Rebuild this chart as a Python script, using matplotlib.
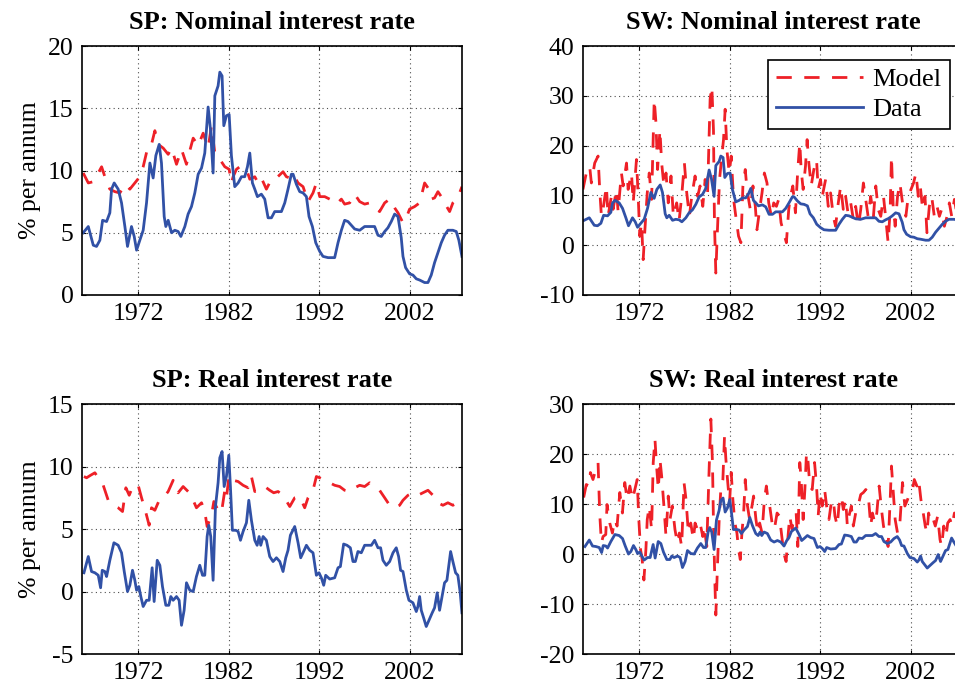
import numpy as np
import matplotlib
matplotlib.use("Agg")
import matplotlib.pyplot as plt

# ---- data (year / % per annum) ----
nom_data_t = [1965.93, 1966.49, 1967.04, 1967.40, 1967.77, 1968.07, 1968.51, 1968.87, 1969.06, 1969.35,
              1969.79, 1970.16, 1970.53, 1970.82, 1971.26, 1971.56, 1971.82, 1972.18, 1972.55, 1972.92,
              1973.29, 1973.65, 1973.95, 1974.32, 1974.57, 1974.87, 1975.05, 1975.31, 1975.68, 1976.04,
              1976.41, 1976.71, 1977.15, 1977.51, 1977.88, 1978.25, 1978.62, 1978.99, 1979.35, 1979.54,
              1979.72, 1979.98, 1980.27, 1980.46, 1980.82, 1981.01, 1981.26, 1981.45, 1981.74, 1982.04,
              1982.29, 1982.66, 1983.03, 1983.40, 1983.76, 1984.06, 1984.32, 1984.61, 1984.87, 1985.16,
              1985.60, 1985.97, 1986.34, 1986.71, 1987.07, 1987.44, 1987.81, 1988.18, 1988.54, 1988.91,
              1989.10, 1989.46, 1989.83, 1990.20, 1990.57, 1990.86, 1991.23, 1991.60, 1992.04, 1992.40,
              1992.96, 1993.69, 1994.06, 1994.43, 1994.79, 1995.16, 1995.53, 1995.90, 1996.45, 1997.00,
              1997.55, 1998.10, 1998.47, 1998.84, 1999.21, 1999.57, 1999.94, 2000.31, 2000.68, 2001.04,
              2001.23, 2001.52, 2001.96, 2002.33, 2002.70, 2003.07, 2003.62, 2003.99, 2004.35, 2004.72,
              2005.09, 2005.46, 2005.82, 2006.19, 2006.74, 2007.11, 2007.40, 2007.74]
nom_data = [5.0, 5.5, 4.0, 3.9, 4.4, 6.0, 5.9, 6.6, 8.5, 9.0,
            8.5, 7.4, 5.5, 3.9, 5.5, 4.7, 3.6, 4.4, 5.2, 7.4,
            10.6, 9.4, 11.2, 12.1, 10.6, 6.3, 5.5, 6.0, 5.0, 5.2,
            5.1, 4.7, 5.5, 6.5, 7.1, 8.2, 9.7, 10.2, 11.4, 13.3,
            15.1, 13.3, 9.8, 16.0, 16.8, 17.9, 17.6, 13.6, 14.4, 14.5,
            11.2, 8.7, 9.0, 9.5, 9.5, 10.3, 11.4, 9.0, 8.5, 7.9,
            8.1, 7.7, 6.2, 6.2, 6.7, 6.7, 6.7, 7.4, 8.5, 9.7,
            9.7, 8.9, 8.3, 8.2, 7.9, 6.3, 5.5, 4.2, 3.5, 3.1,
            3.0, 3.0, 4.2, 5.2, 6.0, 5.9, 5.6, 5.3, 5.2, 5.5,
            5.5, 5.5, 4.8, 4.7, 5.1, 5.4, 5.9, 6.5, 6.3, 4.6,
            3.1, 2.2, 1.7, 1.6, 1.3, 1.2, 1.0, 1.0, 1.6, 2.6,
            3.4, 4.2, 4.8, 5.2, 5.2, 5.1, 4.4, 3.1]

sp_nom_t = [1965.93, 1966.49, 1967.04, 1967.59, 1967.96, 1968.32, 1968.87, 1969.43, 1969.98, 1970.53,
            1971.08, 1971.63, 1972.18, 1972.55, 1973.10, 1973.47, 1973.84, 1974.21, 1974.76, 1975.31,
            1975.68, 1976.23, 1976.78, 1977.33, 1977.70, 1978.07, 1978.62, 1979.17, 1979.72, 1980.09,
            1980.46, 1981.01, 1981.56, 1982.04, 1982.29, 1982.48, 1982.85, 1983.21, 1983.58, 1983.95,
            1984.32, 1984.87, 1985.24, 1985.60, 1986.15, 1986.71, 1987.26, 1987.99, 1988.36, 1988.73,
            1989.10, 1989.65, 1990.20, 1990.75, 1991.30, 1991.67, 1992.04, 1992.59, 1993.14, 1993.88,
            1994.43, 1994.79, 1995.35, 1995.90, 1996.45, 1997.00, 1997.55, 1998.10, 1998.65, 1999.21,
            1999.76, 2000.31, 2000.68, 2001.23, 2001.60, 2001.96, 2002.51, 2003.07, 2003.62, 2003.99,
            2004.35, 2004.72, 2005.09, 2005.46, 2005.82, 2006.38, 2006.74, 2007.11, 2007.48, 2007.74]
sp_nom = [9.8, 9.0, 9.1, 9.8, 10.3, 9.5, 8.5, 8.3, 8.2, 8.9,
          8.5, 9.0, 9.5, 10.3, 12.0, 12.1, 13.2, 12.1, 11.8, 11.3,
          11.8, 10.5, 11.7, 10.5, 11.6, 12.6, 12.0, 13.0, 11.8, 13.6,
          11.4, 10.9, 10.3, 10.1, 9.0, 9.5, 10.1, 10.3, 10.3, 10.1,
          9.3, 9.5, 9.0, 9.4, 8.5, 9.3, 9.4, 9.9, 9.5, 9.4,
          9.7, 9.0, 8.7, 7.5, 8.2, 9.0, 7.9, 7.9, 7.7, 7.3,
          7.7, 7.3, 7.4, 8.1, 7.5, 7.3, 7.4, 7.0, 6.7, 7.4,
          7.7, 7.0, 6.6, 5.8, 6.2, 6.9, 7.1, 7.4, 9.0, 8.6,
          7.7, 7.8, 8.3, 7.9, 7.4, 6.7, 7.4, 7.7, 8.2, 8.7]

real_data_t = [1966.01, 1966.49, 1966.85, 1967.22, 1967.59, 1967.85, 1968.03, 1968.32, 1968.51, 1968.87,
               1969.32, 1969.79, 1970.16, 1970.46, 1970.82, 1971.08, 1971.37, 1971.63, 1971.82, 1972.07,
               1972.29, 1972.55, 1972.92, 1973.21, 1973.54, 1973.76, 1974.10, 1974.39, 1974.68, 1975.05,
               1975.38, 1975.60, 1975.86, 1976.23, 1976.52, 1976.78, 1977.07, 1977.33, 1977.70, 1978.07,
               1978.43, 1978.80, 1979.10, 1979.35, 1979.61, 1979.79, 1980.01, 1980.27, 1980.53, 1980.82,
               1981.01, 1981.26, 1981.49, 1981.74, 1982.00, 1982.18, 1982.40, 1982.77, 1983.03, 1983.29,
               1983.58, 1983.95, 1984.21, 1984.50, 1984.87, 1985.13, 1985.35, 1985.53, 1985.79, 1986.15,
               1986.52, 1986.89, 1987.26, 1987.63, 1987.99, 1988.29, 1988.54, 1988.80, 1989.28, 1989.65,
               1989.94, 1990.20, 1990.57, 1990.93, 1991.30, 1991.67, 1991.96, 1992.22, 1992.48, 1992.70,
               1993.14, 1993.69, 1994.06, 1994.32, 1994.68, 1995.05, 1995.42, 1995.71, 1995.97, 1996.26,
               1996.63, 1997.00, 1997.37, 1997.74, 1998.10, 1998.47, 1998.76, 1999.02, 1999.39, 1999.76,
               2000.13, 2000.49, 2000.75, 2000.97, 2001.23, 2001.60, 2001.89, 2002.33, 2002.70, 2002.88,
               2003.07, 2003.25, 2003.51, 2003.80, 2004.10, 2004.46, 2004.72, 2005.01, 2005.27, 2005.57,
               2005.82, 2006.08, 2006.49, 2006.74, 2007.04, 2007.29, 2007.55, 2007.74]
real_data = [1.5, 2.8, 1.6, 1.5, 1.3, 0.3, 1.7, 1.6, 1.2, 2.5,
             3.9, 3.7, 3.1, 1.6, 0.0, 0.5, 1.7, 0.9, 0.1, 0.4,
             -0.4, -1.2, -0.7, -0.7, 1.9, -0.8, 2.5, 2.1, 0.4, -1.1,
             -1.1, -0.4, -0.7, -0.4, -0.7, -2.7, -1.5, 0.7, 0.1, 0.0,
             1.2, 2.1, 1.3, 1.3, 4.4, 5.3, 4.4, 0.9, 6.8, 8.7,
             10.7, 11.2, 8.4, 9.2, 10.9, 8.4, 4.9, 4.9, 4.8, 4.1,
             4.8, 5.5, 7.3, 5.7, 4.1, 3.7, 4.4, 3.7, 4.4, 4.1,
             2.8, 2.4, 2.7, 2.4, 1.6, 2.7, 3.3, 4.5, 5.2, 3.9,
             2.7, 3.1, 3.7, 3.3, 3.1, 1.3, 1.5, 1.1, 0.5, 1.3,
             1.0, 1.1, 1.9, 2.0, 3.8, 3.7, 3.5, 2.4, 2.4, 3.2,
             3.1, 3.7, 3.7, 3.7, 4.1, 3.5, 3.5, 2.5, 2.1, 2.4,
             3.1, 3.5, 2.8, 1.7, 1.6, 0.1, -0.7, -0.9, -1.6, -1.2,
             -0.4, -1.5, -2.1, -2.8, -2.3, -1.7, -1.3, -0.1, -1.5, -0.3,
             0.7, 0.9, 3.2, 2.4, 1.5, 1.3, -0.1, -1.7]

sp_real_t = [1966.01, 1966.30, 1966.74, 1967.22, 1968.14, 1968.69, 1969.24, 1969.79, 1970.27, 1970.64,
             1971.01, 1971.45, 1972.00, 1972.37, 1972.85, 1973.21, 1973.47, 1973.84, 1974.32, 1974.76,
             1975.31, 1975.86, 1976.41, 1976.96, 1977.51, 1978.07, 1978.43, 1978.99, 1979.35, 1979.61,
             1980.09, 1980.35, 1980.82, 1981.19, 1981.56, 1981.74, 1982.04, 1982.48, 1983.03, 1983.58,
             1984.13, 1984.50, 1984.87, 1985.42, 1985.97, 1986.52, 1986.96, 1987.44, 1987.99, 1988.73,
             1989.28, 1989.83, 1990.38, 1990.75, 1991.30, 1991.67, 1992.04, 1992.59, 1993.14, 1993.69,
             1994.24, 1994.79, 1995.35, 1995.90, 1996.45, 1997.00, 1997.55, 1998.10, 1998.65, 1999.21,
             1999.76, 2000.31, 2000.86, 2001.23, 2001.78, 2002.33, 2002.88, 2003.43, 2003.99, 2004.54,
             2005.09, 2005.64, 2006.19, 2006.74, 2007.29, 2007.74]
sp_real = [9.2, 9.1, 9.3, 9.5, 8.5, 7.3, 6.9, 6.7, 6.4, 8.3,
           7.7, 8.5, 8.5, 7.5, 6.3, 5.3, 6.7, 6.5, 7.3, 7.5,
           8.0, 8.9, 7.9, 8.4, 8.0, 7.3, 6.7, 7.1, 6.4, 5.2,
           6.1, 7.2, 6.5, 6.3, 8.1, 7.5, 9.3, 8.9, 8.8, 8.5,
           8.3, 9.2, 8.0, 8.1, 8.4, 8.1, 7.9, 8.0, 7.7, 6.8,
           7.5, 7.6, 6.7, 7.5, 8.1, 9.2, 9.1, 8.9, 8.7, 8.5,
           8.4, 8.1, 8.0, 8.3, 8.5, 8.4, 8.7, 8.4, 8.1, 7.5,
           6.9, 6.7, 6.9, 7.3, 7.7, 7.9, 7.7, 7.9, 8.1, 7.7,
           7.1, 6.9, 7.1, 6.9, 7.1, 7.7]

sw_nom_t = [1965.79, 1966.16, 1966.53, 1966.72, 1967.09, 1967.46, 1967.64, 1967.83, 1968.01, 1968.38,
            1968.56, 1968.93, 1969.12, 1969.49, 1969.67, 1970.04, 1970.23, 1970.60, 1970.78, 1971.15,
            1971.34, 1971.70, 1971.89, 1972.07, 1972.26, 1972.44, 1972.63, 1972.89, 1973.11, 1973.37,
            1973.66, 1973.85, 1974.03, 1974.29, 1974.48, 1974.73, 1974.96, 1975.21, 1975.51, 1975.77,
            1976.14, 1976.40, 1976.69, 1976.99, 1977.25, 1977.54, 1977.80, 1978.17, 1978.46, 1978.72,
            1979.02, 1979.28, 1979.54, 1979.83, 1980.02, 1980.20, 1980.31, 1980.46, 1980.64, 1980.87,
            1981.12, 1981.31, 1981.49, 1981.68, 1981.94, 1982.16, 1982.42, 1982.71, 1982.97, 1983.23,
            1983.45, 1983.71, 1983.90, 1984.26, 1984.56, 1984.82, 1985.00, 1985.30, 1985.56, 1985.82,
            1986.11, 1986.30, 1986.59, 1986.85, 1987.15, 1987.40, 1987.66, 1987.96, 1988.25, 1988.51,
            1988.70, 1988.96, 1989.25, 1989.51, 1989.73, 1989.88, 1990.10, 1990.36, 1990.54, 1990.73,
            1990.99, 1991.28, 1991.58, 1991.76, 1992.02, 1992.21, 1992.58, 1992.87, 1993.13, 1993.43,
            1993.68, 1993.98, 1994.24, 1994.53, 1994.79, 1995.05, 1995.35, 1995.64, 1995.90, 1996.20,
            1996.46, 1996.75, 1997.01, 1997.27, 1997.56, 1997.86, 1998.12, 1998.38, 1998.67, 1998.97,
            1999.23, 1999.48, 1999.71, 1999.85, 2000.04, 2000.26, 2000.52, 2000.78, 2001.07, 2001.44,
            2001.70, 2002.00, 2002.29, 2002.55, 2002.81, 2003.03, 2003.29, 2003.55, 2003.77, 2004.03,
            2004.29, 2004.58, 2004.88, 2005.14, 2005.39, 2005.69, 2005.99, 2006.24, 2006.50, 2006.80,
            2006.98]
sw_nom = [11.2, 14.5, 15.9, 12.5, 16.5, 17.9, 11.2, 5.8, 7.2, 11.9,
          5.8, 9.8, 7.2, 11.2, 6.8, 14.5, 11.9, 16.5, 11.2, 14.5,
          8.5, 17.2, 9.8, 1.8, 4.5, -2.9, 3.1, 10.5, 14.5, 9.2,
          29.3, 24.6, 15.2, 23.2, 16.5, 11.9, 14.5, 8.5, 13.9, 5.8,
          8.5, 4.8, 9.8, 16.5, 10.5, 5.8, 9.8, 13.9, 9.8, 11.9,
          7.8, 13.2, 9.8, 29.3, 31.9, 23.2, 4.5, -5.6, 3.1, 13.2,
          17.9, 21.2, 27.3, 19.2, 14.5, 17.9, 9.2, 5.2, 1.8, 0.5,
          11.9, 15.2, 11.2, 7.2, 11.9, 7.8, 3.1, 7.2, 10.5, 14.5,
          12.5, 8.5, 5.8, 8.5, 7.8, 9.2, 4.5, 2.5, 0.5, 7.2,
          9.8, 11.9, 6.5, 15.2, 20.6, 15.2, 11.2, 15.9, 21.2, 16.5,
          11.9, 15.2, 17.2, 11.2, 13.2, 9.8, 13.2, 7.8, 10.5, 5.8,
          3.8, 8.5, 11.9, 7.2, 9.8, 6.5, 8.5, 5.2, 7.8, 3.8,
          7.2, 12.5, 9.2, 5.8, 9.8, 5.8, 11.9, 7.2, 5.8, 9.8,
          5.2, 0.5, 7.2, 17.9, 7.8, 3.8, 9.8, 12.5, 8.5, 5.8,
          9.8, 11.2, 12.5, 14.5, 9.8, 11.9, 7.2, 9.8, 2.5, 7.8,
          9.8, 5.8, 7.8, 5.8, 7.2, 3.8, 5.8, 8.5, 5.8, 9.2,
          7.2]

sw_real_t = [1965.87, 1966.16, 1966.46, 1966.61, 1966.90, 1967.20, 1967.46, 1967.64, 1967.83, 1968.01,
             1968.31, 1968.45, 1968.75, 1969.04, 1969.30, 1969.56, 1969.86, 1970.15, 1970.41, 1970.67,
             1970.97, 1971.26, 1971.52, 1971.78, 1971.96, 1972.15, 1972.33, 1972.52, 1972.74, 1972.89,
             1973.11, 1973.37, 1973.55, 1973.74, 1973.92, 1974.11, 1974.29, 1974.48, 1974.73, 1974.96,
             1975.21, 1975.40, 1975.66, 1975.95, 1976.21, 1976.43, 1976.69, 1976.95, 1977.17, 1977.43,
             1977.69, 1977.98, 1978.17, 1978.43, 1978.72, 1979.02, 1979.17, 1979.46, 1979.72, 1979.91,
             1980.09, 1980.20, 1980.35, 1980.46, 1980.64, 1980.83, 1981.01, 1981.24, 1981.42, 1981.57,
             1981.75, 1981.97, 1982.16, 1982.34, 1982.57, 1982.79, 1982.97, 1983.16, 1983.34, 1983.53,
             1983.71, 1983.90, 1984.19, 1984.45, 1984.63, 1984.89, 1985.11, 1985.30, 1985.56, 1985.82,
             1986.04, 1986.22, 1986.41, 1986.67, 1986.92, 1987.22, 1987.48, 1987.70, 1987.96, 1988.22,
             1988.40, 1988.62, 1988.88, 1989.07, 1989.33, 1989.51, 1989.73, 1989.88, 1990.10, 1990.29,
             1990.47, 1990.62, 1990.84, 1991.10, 1991.36, 1991.58, 1991.76, 1991.95, 1992.21, 1992.47,
             1992.69, 1992.95, 1993.20, 1993.43, 1993.61, 1993.87, 1994.05, 1994.31, 1994.53, 1994.79,
             1994.98, 1995.16, 1995.42, 1995.64, 1995.90, 1996.16, 1996.46, 1996.75, 1997.01, 1997.27,
             1997.56, 1997.75, 1998.01, 1998.23, 1998.49, 1998.75, 1998.97, 1999.23, 1999.48, 1999.71,
             1999.85, 2000.08, 2000.26, 2000.52, 2000.78, 2001.07, 2001.33, 2001.63, 2001.89, 2002.18,
             2002.37, 2002.66, 2002.85, 2003.10, 2003.36, 2003.58, 2003.77, 2003.95, 2004.21, 2004.47,
             2004.69, 2004.95, 2005.21, 2005.39, 2005.62, 2005.87, 2006.06, 2006.32, 2006.54, 2006.80,
             2006.98]
sw_real = [11.3, 13.9, 13.6, 16.3, 14.9, 16.9, 18.3, 8.2, 2.2, 3.5,
           3.9, 9.9, 6.2, 4.2, 6.9, 5.6, 12.3, 8.2, 14.3, 10.9,
           13.6, 10.9, 12.9, 14.9, 6.9, 0.9, -1.1, -5.2, 0.9, 6.9,
           9.6, 4.9, 18.3, 23.0, 17.6, 12.9, 19.0, 15.6, 9.6, 3.5,
           11.6, 6.9, 9.6, 4.9, 2.2, 4.2, 1.5, 14.3, 10.9, 4.2,
           6.2, 2.9, 6.2, 4.9, 6.2, 3.5, 5.6, 1.5, 16.9, 27.0,
           18.3, 6.2, -5.2, -12.2, -2.5, 6.9, 12.9, 14.9, 23.6, 19.0,
           14.9, 10.2, 16.3, 10.9, 6.2, 4.2, 0.9, -1.1, 4.2, 8.2,
           14.9, 10.2, 6.9, 9.6, 11.6, 6.9, 4.2, 6.2, 4.2, 10.9,
           13.6, 10.9, 9.6, 6.2, 4.9, 8.2, 7.6, 4.2, 0.2, -1.5,
           2.9, 7.6, 4.9, 7.6, 8.2, 1.5, 18.3, 14.9, 6.9, 12.9,
           20.3, 19.0, 13.6, 12.9, 18.3, 13.6, 7.6, 12.3, 9.6, 12.9,
           9.6, 6.9, 10.2, 10.9, 7.6, 5.6, 9.6, 11.6, 8.9, 10.9,
           5.6, 7.6, 9.6, 5.6, 8.2, 9.6, 11.9, 12.3, 12.9, 12.3,
           5.6, 8.2, 6.2, 8.2, 13.6, 8.9, 5.6, 3.5, 1.5, 10.9,
           17.6, 11.6, 6.9, 4.2, 6.2, 14.3, 9.6, 10.9, 12.3, 12.9,
           14.9, 13.6, 14.9, 10.9, 8.2, 5.6, 4.2, 8.2, 6.2, 6.9,
           5.6, 7.6, 2.9, 1.5, 5.6, 3.5, 6.2, 6.9, 5.6, 8.2,
           7.6]

year_ticks = [1972, 1982, 1992, 2002]

RED = '#ee2027'
BLUE = '#3151a6'
FS = 18.5

plt.rcParams['font.family'] = ['Liberation Serif', 'DejaVu Serif']
plt.rcParams['font.size'] = FS
plt.rcParams['axes.unicode_minus'] = False

fig = plt.figure(figsize=(9.55, 6.91), dpi=100)

panels = [
    # position, title, model series, data series, ylim, yticks, show ylabel
    ([0.0859, 0.5731, 0.3979, 0.3603], 'SP: Nominal interest rate', (sp_nom_t, sp_nom),
     (nom_data_t, nom_data), (0, 20), [0, 5, 10, 15, 20], True),
    ([0.6105, 0.5731, 0.3979, 0.3603], 'SW: Nominal interest rate', (sw_nom_t, sw_nom),
     (nom_data_t, nom_data), (-10, 40), [-10, 0, 10, 20, 30, 40], False),
    ([0.0859, 0.0535, 0.3979, 0.3618], 'SP: Real interest rate', (sp_real_t, sp_real),
     (real_data_t, real_data), (-5, 15), [-5, 0, 5, 10, 15], True),
    ([0.6105, 0.0535, 0.3979, 0.3618], 'SW: Real interest rate', (sw_real_t, sw_real),
     (real_data_t, real_data), (-20, 30), [-20, -10, 0, 10, 20, 30], False),
]

for i, (pos, title, model, data, ylim, yticks, ylab) in enumerate(panels):
    ax = fig.add_axes(pos)
    assert len(model[0]) == len(model[1]) and len(data[0]) == len(data[1])
    ax.plot(model[0], model[1], color=RED, lw=2.0, dashes=(5.5, 4.5), label='Model')
    ax.plot(data[0], data[1], color=BLUE, lw=2.0, label='Data')
    ax.set_xlim(1965.8, 2007.75)
    ax.set_ylim(*ylim)
    ax.set_xticks(year_ticks)
    ax.set_yticks(yticks)
    ax.grid(True, color='0.3', linestyle=(0, (1, 3)), linewidth=0.8)
    ax.tick_params(direction='in', length=3, width=0.8, top=True, right=True,
                   labelsize=FS, pad=6)
    for s in ax.spines.values():
        s.set_linewidth(1.2)
    ax.set_title(title, fontweight='bold', fontsize=19, pad=12)
    if ylab:
        ax.set_ylabel('% per annum', fontsize=FS, labelpad=5)
    if i == 1:
        leg = ax.legend(loc='upper right', bbox_to_anchor=(0.965, 0.944), borderaxespad=0,
                        fancybox=False, framealpha=1, edgecolor='black', handlelength=3.3,
                        fontsize=19, borderpad=0.3, labelspacing=0.25, handletextpad=0.35)
        leg.get_frame().set_linewidth(1.2)

fig.savefig('out.png', dpi=100)
